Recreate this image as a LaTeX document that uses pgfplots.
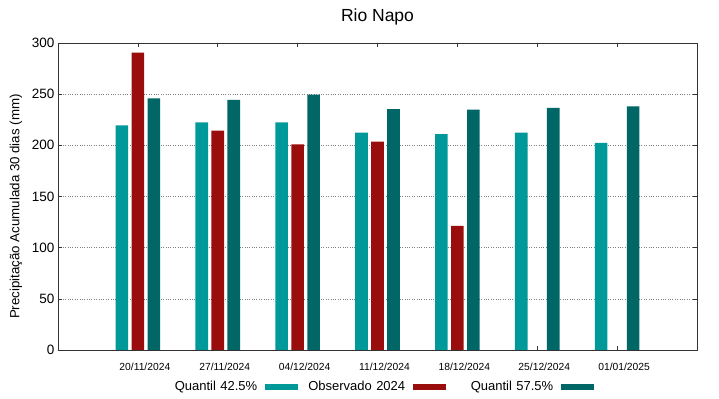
\documentclass[border=0pt]{standalone}
\usepackage{fontspec}
\setmainfont{Liberation Sans}
\usepackage{pgfplots}
\pgfplotsset{compat=1.18}
\definecolor{qlow}{RGB}{0,153,153}
\definecolor{obs}{RGB}{153,13,13}
\definecolor{qhigh}{RGB}{0,102,102}
\begin{document}
\begin{tikzpicture}
\useasboundingbox (-58bp,-49bp) rectangle (661bp,350bp);
\begin{axis}[
  scale only axis, width=639bp, height=307bp,
  xmin=-1, xmax=7, ymin=0, ymax=300,
  ybar=3.3bp, bar width=12.7bp,
  xtick={0,...,6},
  xticklabels={20/11/2024,27/11/2024,04/12/2024,11/12/2024,18/12/2024,25/12/2024,01/01/2025},
  ytick={0,50,...,300},
  ymajorgrids, grid style={dotted, black!50, line width=0.45pt},
  tick align=inside, major tick length=4bp,
  axis line style={black!80, line width=0.7pt},
  tick style={black!80, line width=0.6pt},
  /pgf/number format/assume math mode=true,
  x tick label style={font=\fontsize{10.3bp}{12bp}\selectfont, yshift=-10bp, xshift=7bp},
  y tick label style={font=\fontsize{13.5bp}{15bp}\selectfont},
  ylabel={Precipitação Acumulada 30 dias (mm)},
  every axis y label/.style={at={(rel axis cs:0,0.467)}, xshift=-42bp, rotate=90, anchor=center, font=\fontsize{13.3bp}{15bp}\selectfont},
  title={Rio Napo},
  every axis title/.style={at={(rel axis cs:0.5,1)}, yshift=26bp, anchor=center, font=\fontsize{17.5bp}{20bp}\selectfont},
  legend plot pos=right,
  legend image code/.code={\fill[#1,draw=none] (0bp,-3.25bp) rectangle (33bp,3.25bp);},
  legend style={at={(rel axis cs:0.1502,-0.1205)}, anchor=west, draw=none, fill=none, inner sep=0pt,
    legend columns=3, font=\fontsize{13bp}{15bp}\selectfont,
    /tikz/every even column/.append style={column sep=4bp},
    /tikz/every odd column/.append style={column sep=8bp},
    nodes={inner sep=0bp, text width=103bp, align=right}},
]
\addplot[fill=qlow, draw=none] coordinates {(0,219.5) (1,222.5) (2,222.5) (3,212.4) (4,211) (5,212.4) (6,202.3)};
\addlegendentry{Quantil 42.5\%}
\addplot[fill=obs, draw=none] coordinates {(0,290.5) (1,214.3) (2,201) (3,203.6) (4,121.2)};
\addlegendentry{Observado 2024}
\addplot[fill=qhigh, draw=none] coordinates {(0,246) (1,244.3) (2,249.5) (3,235.5) (4,234.8) (5,236.5) (6,238.1)};
\addlegendentry{Quantil 57.5\%}
\end{axis}
\end{tikzpicture}
\end{document}
